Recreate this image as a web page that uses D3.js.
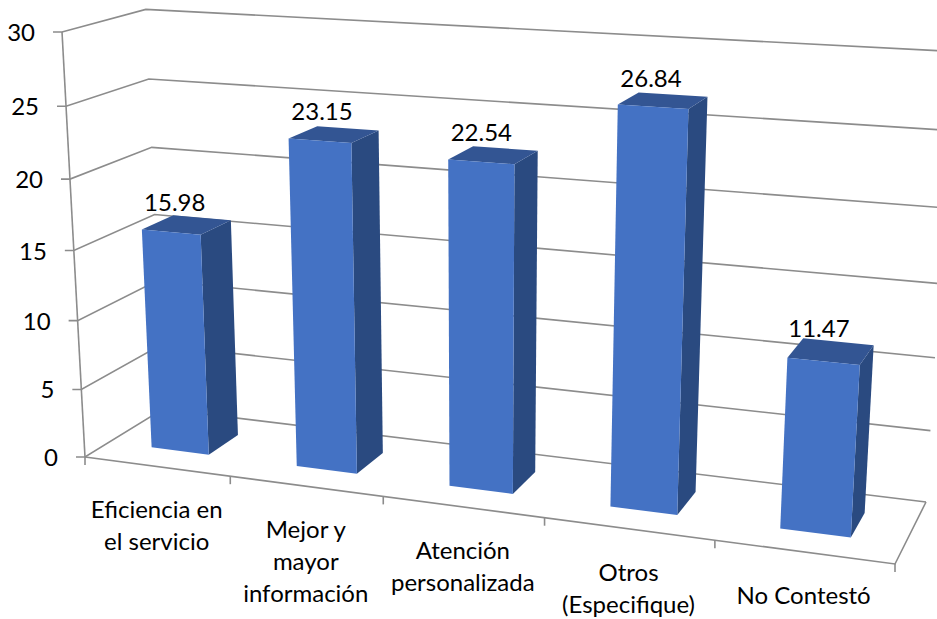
<!DOCTYPE html>
<html>
<head>
  <meta charset="utf-8">
  <title>Grafico barras 3D</title>
  <script src="https://d3js.org/d3.v7.min.js"></script>
  <style>
    body { margin: 0; padding: 0; background: white; }
    svg { display: block; }
    text { font-family: Lato, "Open Sans", sans-serif; font-size: 24px; fill: #000; }
    .grid { fill: none; stroke: #8c8c8c; stroke-width: 1.6; }
  </style>
</head>
<body>
  <div id="chart"></div>
  <script>
    // Data
    var categories = ["Eficiencia en el servicio", "Mejor y mayor información", "Atención personalizada", "Otros (Especifique)", "No Contestó"];
    var categoryLines = [["Eficiencia en", "el servicio"], ["Mejor y", "mayor", "información"], ["Atención", "personalizada"], ["Otros", "(Especifique)"], ["No Contestó"]];
    var values = [15.98, 23.15, 22.54, 26.84, 11.47];
    var valueLabels = ["15.98", "23.15", "22.54", "26.84", "11.47"];
    var yTicks = [0, 5, 10, 15, 20, 25, 30];

    var width = 937, height = 619;

    var svg = d3.select("#chart").append("svg")
      .attr("width", width)
      .attr("height", height);

    // Floor corners on screen and where the vertical edges meet
    var floorA = [85, 457], floorB = [895, 564], floorC = [926, 502], floorD = [163, 409];
    var vanish = [478, 7724];
    var wallTopY = 32;

    // Square to quad homography for the floor
    var dx1 = floorB[0] - floorC[0], dx2 = floorD[0] - floorC[0], sx = floorA[0] - floorB[0] + floorC[0] - floorD[0];
    var dy1 = floorB[1] - floorC[1], dy2 = floorD[1] - floorC[1], sy = floorA[1] - floorB[1] + floorC[1] - floorD[1];
    var den = dx1 * dy2 - dx2 * dy1;
    var g = (sx * dy2 - dx2 * sy) / den, h = (dx1 * sy - sx * dy1) / den;
    var a = floorB[0] - floorA[0] + g * floorB[0], b = floorD[0] - floorA[0] + h * floorD[0];
    var d = floorB[1] - floorA[1] + g * floorB[1], e = floorD[1] - floorA[1] + h * floorD[1];
    // height scale along the vanishing direction, fixed by the top of the left wall
    var k = (wallTopY - floorA[1]) / (vanish[1] - wallTopY);

    // u: across categories, w: depth, t: height (all 0 to 1)
    function project(u, w, t) {
      var q = g * u + h * w + 1 + k * t;
      return [
        (a * u + b * w + floorA[0] + k * t * vanish[0]) / q,
        (d * u + e * w + floorA[1] + k * t * vanish[1]) / q
      ];
    }

    var xScale = d3.scaleBand().domain(categories).range([0, 1]).paddingInner(0.6).paddingOuter(0.3);
    var yScale = d3.scaleLinear().domain([0, 30]).range([0, 1]);
    var depthFront = 0.3, depthBack = 0.7;
    var step = 1 / categories.length;

    var poly = d3.line();
    function face(pts) { return poly(pts) + "Z"; }

    // Gridlines on left wall and back wall
    svg.selectAll(".grid-line")
      .data(yTicks)
      .enter().append("path")
        .attr("class", "grid grid-line")
        .attr("d", function(v) {
          var t = yScale(v);
          var p = project(0, 0, t);
          return poly([[p[0] - 9, p[1]], p, project(0, 1, t), project(1, 1, t)]);
        });

    // Front vertical axis and floor edges
    svg.append("path").attr("class", "grid").attr("d", poly([project(0, 0, 0), project(0, 0, 1)]));
    svg.append("path").attr("class", "grid").attr("d", poly([project(0, 0, 0), project(1, 0, 0), project(1, 1, 0)]));

    // Category ticks under the front edge
    svg.selectAll(".x-tick")
      .data(d3.range(categories.length + 1))
      .enter().append("path")
        .attr("class", "grid x-tick")
        .attr("d", function(i) {
          var p = project(i * step, 0, 0);
          return poly([p, [p[0], p[1] + 8]]);
        });

    // Bars
    var bars = svg.selectAll(".bar")
      .data(values)
      .enter().append("g")
        .attr("class", "bar");

    function left(i) { return xScale(categories[i]); }
    function right(i) { return left(i) + xScale.bandwidth(); }

    bars.append("path")
      .attr("fill", "#2a4a80")
      .attr("d", function(v, i) {
        var t = yScale(v), u = right(i);
        return face([project(u, depthFront, 0), project(u, depthBack, 0), project(u, depthBack, t), project(u, depthFront, t)]);
      });
    bars.append("path")
      .attr("fill", "#335593")
      .attr("d", function(v, i) {
        var t = yScale(v);
        return face([project(left(i), depthFront, t), project(right(i), depthFront, t), project(right(i), depthBack, t), project(left(i), depthBack, t)]);
      });
    bars.append("path")
      .attr("fill", "#4472c4")
      .attr("d", function(v, i) {
        var t = yScale(v);
        return face([project(left(i), depthFront, 0), project(right(i), depthFront, 0), project(right(i), depthFront, t), project(left(i), depthFront, t)]);
      });

    // Value labels over each bar
    svg.selectAll(".value-label")
      .data(values)
      .enter().append("text")
        .attr("class", "value-label")
        .attr("text-anchor", "middle")
        .attr("x", function(v, i) { return project(left(i) + xScale.bandwidth() / 2, 0.5, yScale(v))[0] - 12; })
        .attr("y", function(v, i) { return project(left(i) + xScale.bandwidth() / 2, 0.5, yScale(v))[1] - 14; })
        .text(function(v, i) { return valueLabels[i]; });

    // Y axis labels
    svg.selectAll(".y-label")
      .data(yTicks)
      .enter().append("text")
        .attr("class", "y-label")
        .attr("text-anchor", "end")
        .attr("x", function(v) { return project(0, 0, yScale(v))[0] - 27; })
        .attr("y", function(v) { return project(0, 0, yScale(v))[1] + 9; })
        .text(function(v) { return v; });

    // Category labels, wrapped like the original
    var xLabels = svg.selectAll(".x-label")
      .data(categoryLines)
      .enter().append("text")
        .attr("class", "x-label")
        .attr("text-anchor", "middle");

    xLabels.selectAll("tspan")
      .data(function(lines, i) { return lines.map(function(l, n) { return { text: l, n: n, i: i }; }); })
      .enter().append("tspan")
        .attr("x", function(o) { return project((o.i + 0.5) * step, 0, 0)[0]; })
        .attr("y", function(o) { return project((o.i + 0.5) * step, 0, 0)[1] + 52 + o.n * 32; })
        .text(function(o) { return o.text; });
  </script>
</body>
</html>
